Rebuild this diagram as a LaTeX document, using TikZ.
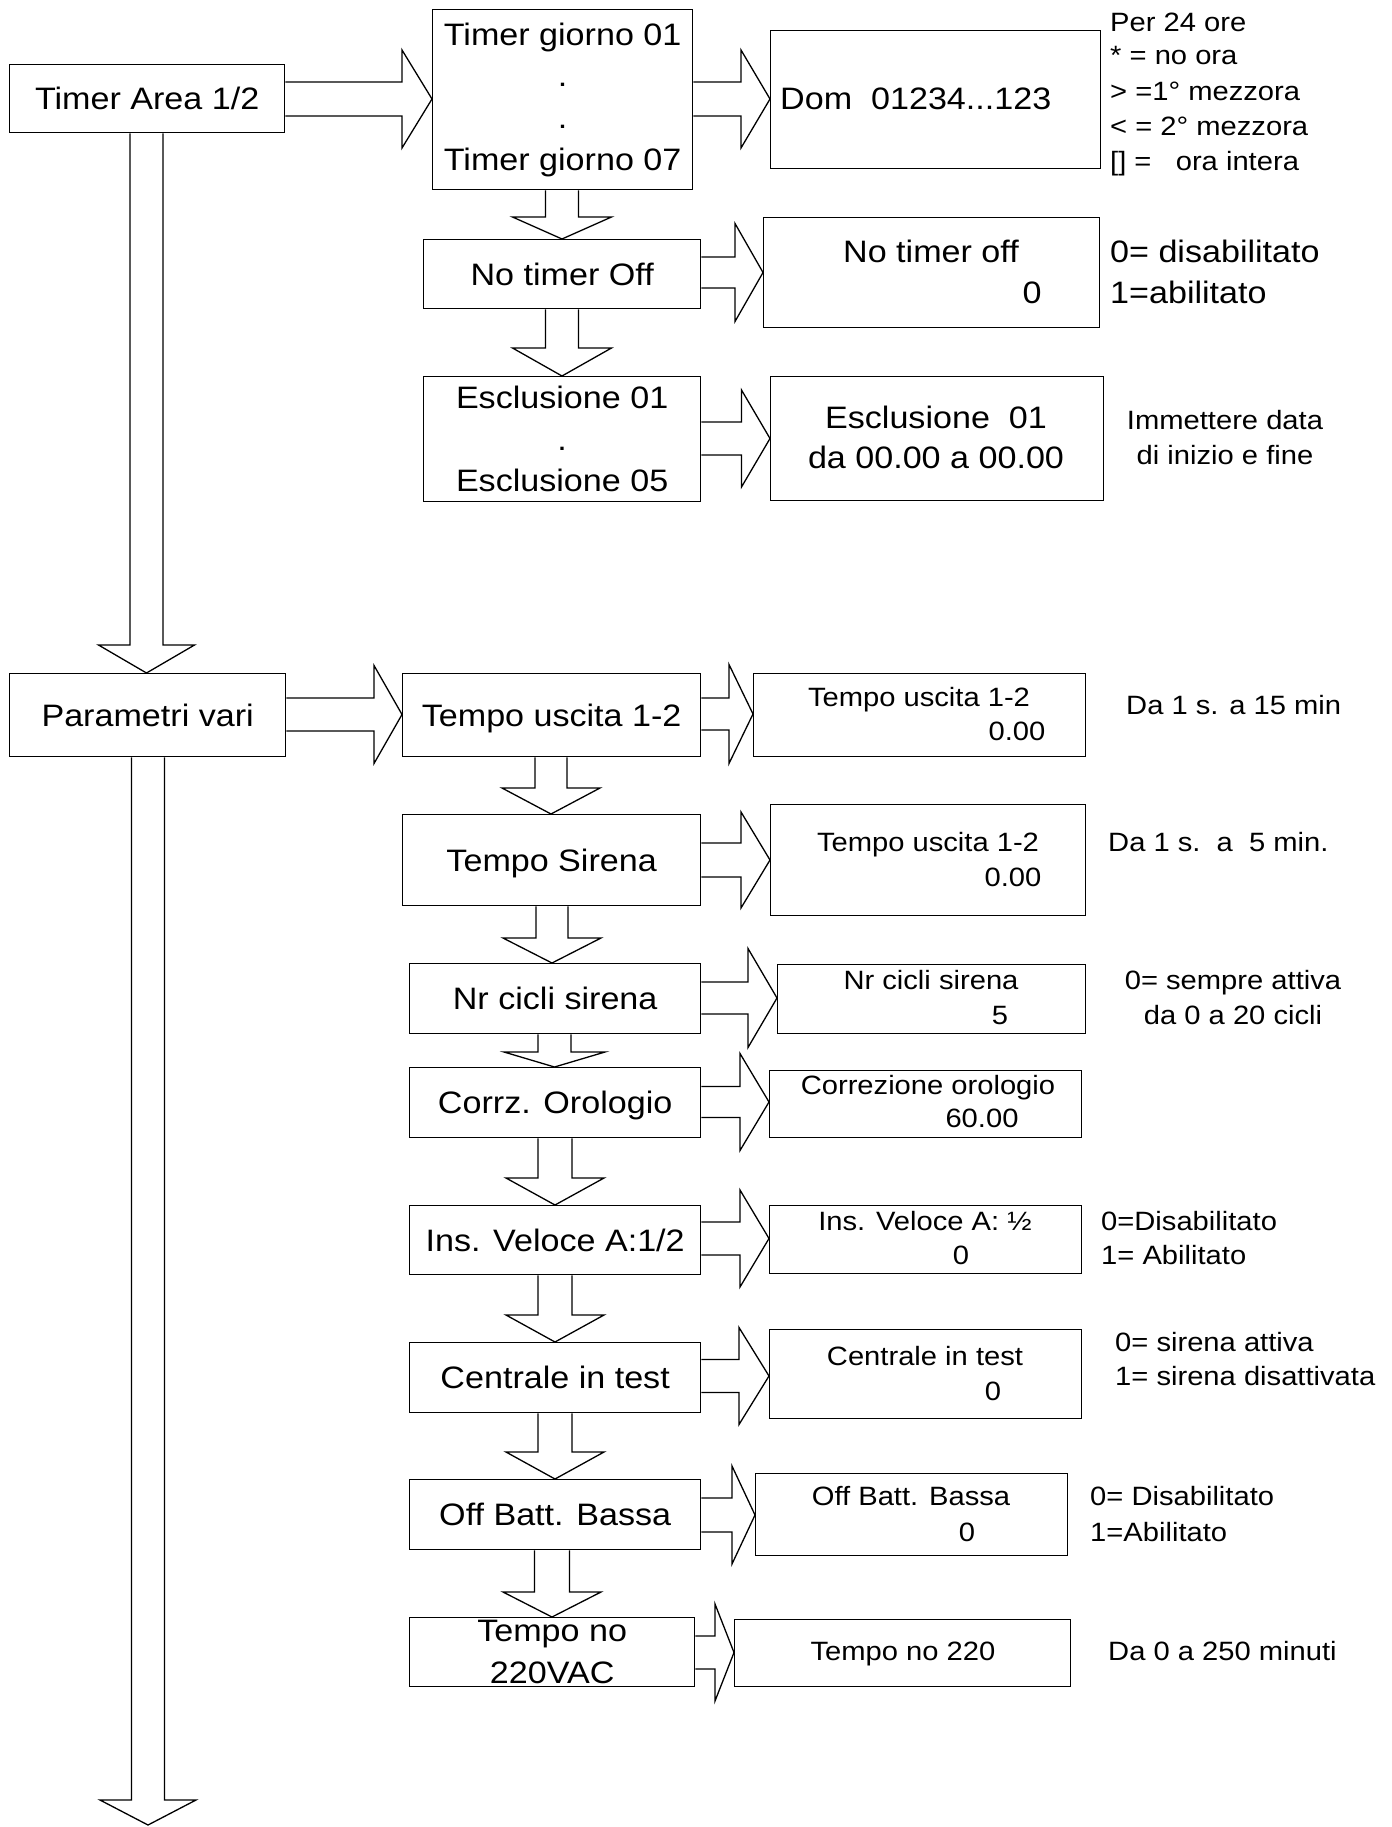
\documentclass[tikz,border=0pt]{standalone}
\usepackage{fontspec}
\setmainfont{Liberation Sans}[FakeStretch=1.1]
\newcommand\mainf{\fontsize{31}{41.7}\selectfont}
\newcommand\smf{\fontsize{26.5}{35}\selectfont}
\tikzset{
 blk/.style={draw, line width=1.3pt, fill=white, line join=miter},
 box/.style={draw, line width=1.3pt, rectangle, inner sep=0pt, anchor=north west, align=center, font=\mainf},
 one/.style={text height=22.2pt, text depth=0pt},
 mt/.style={inner sep=0pt, font=\mainf, text height=22.2pt, text depth=0pt},
 st/.style={inner sep=0pt, font=\smf, text height=19pt, text depth=0pt},
}
\newcommand\Bx[7][]{\node[box,#1, minimum width={#5-#3}, minimum height={#6-#4}] (#2) at (#3,#4) {#7};}
% right block arrow: from, to, y centre, head start x, shaft half, head half
\newcommand\BlkR[6]{%
 \pgfmathsetmacro\rya{#3-#5}\pgfmathsetmacro\ryb{#3+#5}%
 \pgfmathsetmacro\ryc{#3-#6}\pgfmathsetmacro\ryd{#3+#6}%
 \draw[blk] (#1 |- 0,\rya) -- (#4,\rya) -- (#4,\ryc) -- (#2 |- 0,#3) -- (#4,\ryd) -- (#4,\ryb) -- (#1 |- 0,\ryb);}
% down block arrow: from, to, x centre, head start y, shaft half, head half
\newcommand\BlkD[6]{%
 \pgfmathsetmacro\dxa{#3-#5}\pgfmathsetmacro\dxb{#3+#5}%
 \pgfmathsetmacro\dxc{#3-#6}\pgfmathsetmacro\dxd{#3+#6}%
 \draw[blk] (\dxa,0 |- #1) -- (\dxa,#4) -- (\dxc,#4) -- (#3,0 |- #2) -- (\dxd,#4) -- (\dxb,#4) -- (\dxb,0 |- #1);}
\begin{document}
\begin{tikzpicture}[x=1pt,y=-1pt]
\useasboundingbox (0,0) rectangle (1391,1827);
% main column boxes
\Bx[one]{TA}{9}{64}{284}{132}{Timer Area 1/2}
\Bx{TG}{432}{9}{692}{189}{Timer giorno 01\\.\\.\\Timer giorno 07}
\Bx[one]{NTO}{423}{239}{700}{308}{No timer Off}
\Bx{ESC}{423}{376}{700}{501}{Esclusione 01\\.\\Esclusione 05}
\Bx[one]{PV}{9}{673}{285}{756}{Parametri vari}
\Bx[one]{TU}{402}{673}{700}{756}{Tempo uscita 1-2}
\Bx[one]{TS}{402}{814}{700}{905}{Tempo Sirena}
\Bx[one]{NC}{409}{963}{700}{1033}{Nr cicli sirena}
\Bx[one]{CO}{409}{1067}{700}{1137}{Corrz. Orologio}
\Bx[one]{IV}{409}{1205}{700}{1274}{Ins. Veloce A:1/2}
\Bx[one]{CT}{409}{1342}{700}{1412}{Centrale in test}
\Bx[one]{OB}{409}{1479}{700}{1549}{Off Batt. Bassa}
\Bx{TN}{409}{1617}{694}{1686}{Tempo no\\220VAC}
% detail boxes
\Bx{DOM}{770}{30}{1100}{168}{}
\Bx{NTOD}{763}{217}{1099}{327}{}
\Bx{ESCD}{770}{376}{1103}{500}{}
\Bx{TUD}{753}{673}{1085}{756}{}
\Bx{TSD}{770}{804}{1085}{915}{}
\Bx{NCD}{777}{964}{1085}{1033}{}
\Bx{COD}{769}{1070}{1081}{1137}{}
\Bx{IVD}{769}{1205}{1081}{1273}{}
\Bx{CTD}{769}{1329}{1081}{1418}{}
\Bx{OBD}{755}{1473}{1067}{1555}{}
\Bx{TND}{734}{1619}{1070}{1686}{}
% texts in detail boxes
\node[mt,anchor=west] (tDOM) at (780,98) {Dom\ \ 01234...123};
\node[mt] (tNTOD1) at (931,251) {No timer off};
\node[mt] (tNTOD2) at (1032,292) {0};
\node[mt] (tESCD1) at (936,417) {Esclusione\ \ 01};
\node[mt] (tESCD2) at (936,457) {da 00.00 a 00.00};
\node[st] (tTUD1) at (919,697) {Tempo uscita 1-2};
\node[st] (tTUD2) at (1017,731) {0.00};
\node[st] (tTSD1) at (928,842) {Tempo uscita 1-2};
\node[st] (tTSD2) at (1013,877) {0.00};
\node[st] (tNCD1) at (931,980) {Nr cicli sirena};
\node[st] (tNCD2) at (1000,1015) {5};
\node[st] (tCOD1) at (928,1085) {Correzione orologio};
\node[st] (tCOD2) at (982,1118) {60.00};
\node[st] (tIVD1) at (925,1221) {Ins. Veloce A: ½};
\node[st] (tIVD2) at (961,1255) {0};
\node[st] (tCTD1) at (925,1356) {Centrale in test};
\node[st] (tCTD2) at (993,1391) {0};
\node[st] (tOBD1) at (911,1496) {Off Batt. Bassa};
\node[st] (tOBD2) at (967,1532) {0};
\node[st] (tTND) at (903,1651) {Tempo no 220};
% notes on the right
\node[st,anchor=west] (n1) at (1110,22) {Per 24 ore};
\node[st,anchor=west] (n2) at (1110,55) {* = no ora};
\node[st,anchor=west] (n3) at (1110,91) {> =1° mezzora};
\node[st,anchor=west] (n4) at (1110,126) {< = 2° mezzora};
\node[st,anchor=west] (n5) at (1110,161) {[] =\ \ \ ora intera};
\node[mt,anchor=west] (n6) at (1110,251) {0= disabilitato};
\node[mt,anchor=west] (n7) at (1110,292) {1=abilitato};
\node[st] (n8) at (1225,420) {Immettere data};
\node[st] (n9) at (1225,455) {di inizio e fine};
\node[st,anchor=west] (n10) at (1126,705) {Da 1 s. a 15 min};
\node[st,anchor=west] (n11) at (1108,842) {Da 1 s.\ \ a\ \ 5 min.};
\node[st] (n12) at (1233,980) {0= sempre attiva};
\node[st] (n13) at (1233,1015) {da 0 a 20 cicli};
\node[st,anchor=west] (n14) at (1101,1221) {0=Disabilitato};
\node[st,anchor=west] (n15) at (1101,1255) {1= Abilitato};
\node[st,anchor=west] (n16) at (1115,1342) {0= sirena attiva};
\node[st,anchor=west] (n17) at (1115,1376) {1= sirena disattivata};
\node[st,anchor=west] (n18) at (1090,1496) {0= Disabilitato};
\node[st,anchor=west] (n19) at (1090,1532) {1=Abilitato};
\node[st,anchor=west] (n20) at (1108,1651) {Da 0 a 250 minuti};
% horizontal block arrows
\BlkR{TA.east}{TG.west}{99}{402}{17}{49}
\BlkR{TG.east}{DOM.west}{99}{741}{17}{49}
\BlkR{NTO.east}{NTOD.west}{272.5}{735}{15.5}{49}
\BlkR{ESC.east}{ESCD.west}{438.5}{741.5}{16.5}{48.5}
\BlkR{PV.east}{TU.west}{714.5}{374}{16.5}{49}
\BlkR{TU.east}{TUD.west}{714}{729}{16}{49.5}
\BlkR{TS.east}{TSD.west}{860}{741}{17}{48}
\BlkR{NC.east}{NCD.west}{998}{748}{16}{49.5}
\BlkR{CO.east}{COD.west}{1102}{740}{15.5}{48.5}
\BlkR{IV.east}{IVD.west}{1238.5}{740}{16.5}{48.5}
\BlkR{CT.east}{CTD.west}{1376}{739}{16.5}{48.5}
\BlkR{OB.east}{OBD.west}{1515}{732}{17}{49}
\BlkR{TN.east}{TND.west}{1652.5}{715}{16.5}{48.5}
% vertical block arrows
\BlkD{TA.south}{PV.north}{146.5}{645}{16.5}{48}
\BlkD{TG.south}{NTO.north}{562}{217}{16.5}{49.5}
\BlkD{NTO.south}{ESC.north}{562}{348}{16.5}{49.5}
\BlkD{TU.south}{TS.north}{551}{788}{16}{49}
\BlkD{TS.south}{NC.north}{552}{938}{16}{49}
\BlkD{NC.south}{CO.north}{554.5}{1052}{16.5}{50.5}
\BlkD{CO.south}{IV.north}{555}{1178}{17}{49}
\BlkD{IV.south}{CT.north}{555}{1315}{17}{49}
\BlkD{CT.south}{OB.north}{555}{1452}{17}{49}
\BlkD{OB.south}{TN.north}{552}{1592}{17.5}{49}
\coordinate (bot) at (148,1825);
\BlkD{PV.south}{bot}{148}{1800}{16.5}{48}
\end{tikzpicture}
\end{document}
